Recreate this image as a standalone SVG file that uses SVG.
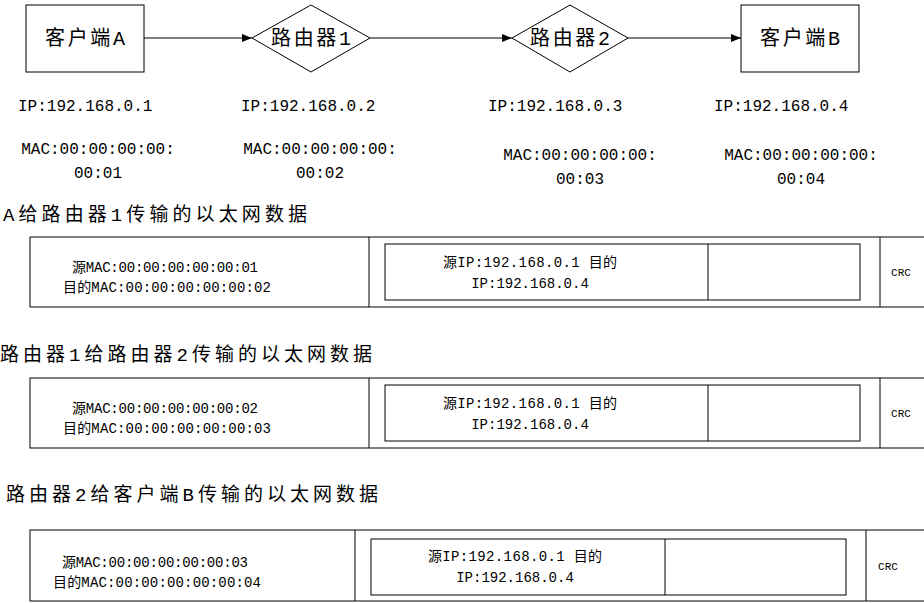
<svg xmlns="http://www.w3.org/2000/svg" width="924" height="603" viewBox="0 0 924 603">
<style>
text{font-family:"Liberation Mono","Noto Sans CJK SC",monospace;fill:#000}
.n{font-size:20px;text-anchor:middle}
.l{font-size:16px}
.c{font-size:16px;text-anchor:middle}
.t{font-size:19px}
.s{font-size:14px;text-anchor:middle}
.x{font-size:11px;text-anchor:middle}
.b{fill:#fff;stroke:#000;stroke-width:1}
</style>
<defs><marker id="a" markerWidth="10" markerHeight="8" refX="10" refY="4" orient="auto" markerUnits="userSpaceOnUse"><path d="M0,0L10,4L0,8z" fill="#000"/></marker></defs>
<rect width="924" height="603" fill="#fff"/>
<g id="edges" stroke="#000" marker-end="url(#a)">
<line x1="144" y1="38" x2="252" y2="38"/>
<line x1="370" y1="38" x2="512" y2="38"/>
<line x1="628" y1="38" x2="741" y2="38"/>
</g>
<g id="clientA"><rect class="b" x="26" y="5" width="118" height="67"/><text class="n" x="85" y="45" textLength="80">客户端A</text></g>
<g id="router1"><polygon class="b" points="252,38 311,5 370,38 311,72"/><text class="n" x="311" y="45" textLength="80">路由器1</text></g>
<g id="router2"><polygon class="b" points="512,38 570,5 628,38 570,72"/><text class="n" x="570" y="45" textLength="80">路由器2</text></g>
<g id="clientB"><rect class="b" x="741" y="5" width="118" height="67"/><text class="n" x="800" y="45" textLength="80">客户端B</text></g>
<g id="labels">
<text class="l" x="18" y="111">IP:192.168.0.1</text>
<text class="l" x="241" y="111">IP:192.168.0.2</text>
<text class="l" x="488" y="111">IP:192.168.0.3</text>
<text class="l" x="714" y="111">IP:192.168.0.4</text>
<text class="c" x="98" y="154">MAC:00:00:00:00:</text><text class="c" x="98" y="178">00:01</text>
<text class="c" x="320" y="154">MAC:00:00:00:00:</text><text class="c" x="320" y="178">00:02</text>
<text class="c" x="580" y="160">MAC:00:00:00:00:</text><text class="c" x="580" y="184">00:03</text>
<text class="c" x="801" y="160">MAC:00:00:00:00:</text><text class="c" x="801" y="184">00:04</text>
</g>
<g id="frame1">
<text class="t" x="3" y="221" textLength="304">A给路由器1传输的以太网数据</text>
<rect class="b" x="30" y="237" width="900" height="70"/>
<line x1="369" y1="237" x2="369" y2="307" stroke="#000"/><line x1="880" y1="237" x2="880" y2="307" stroke="#000"/>
<rect class="b" x="385" y="244" width="475" height="56"/><line x1="708" y1="244" x2="708" y2="300" stroke="#000"/>
<text class="s" x="165" y="272" textLength="186">源MAC:00:00:00:00:00:01</text><text class="s" x="167" y="292" textLength="208">目的MAC:00:00:00:00:00:02</text>
<text class="s" x="530" y="267" textLength="174">源IP:192.168.0.1 目的</text><text class="s" x="530" y="288">IP:192.168.0.4</text>
<text class="x" x="901" y="276">CRC</text>
</g>
<g id="frame2">
<text class="t" x="0" y="361" textLength="372">路由器1给路由器2传输的以太网数据</text>
<rect class="b" x="30" y="378" width="900" height="70"/>
<line x1="369" y1="378" x2="369" y2="448" stroke="#000"/><line x1="880" y1="378" x2="880" y2="448" stroke="#000"/>
<rect class="b" x="385" y="385" width="475" height="56"/><line x1="708" y1="385" x2="708" y2="441" stroke="#000"/>
<text class="s" x="165" y="413" textLength="186">源MAC:00:00:00:00:00:02</text><text class="s" x="167" y="433" textLength="208">目的MAC:00:00:00:00:00:03</text>
<text class="s" x="530" y="408" textLength="174">源IP:192.168.0.1 目的</text><text class="s" x="530" y="429">IP:192.168.0.4</text>
<text class="x" x="901" y="417">CRC</text>
</g>
<g id="frame3">
<text class="t" x="6" y="501" textLength="372">路由器2给客户端B传输的以太网数据</text>
<rect class="b" x="30" y="530" width="900" height="71"/>
<line x1="355" y1="530" x2="355" y2="601" stroke="#000"/><line x1="866" y1="530" x2="866" y2="601" stroke="#000"/>
<rect class="b" x="371" y="539" width="475" height="56"/><line x1="665" y1="539" x2="665" y2="595" stroke="#000"/>
<text class="s" x="155" y="567" textLength="186">源MAC:00:00:00:00:00:03</text><text class="s" x="157" y="587" textLength="208">目的MAC:00:00:00:00:00:04</text>
<text class="s" x="515" y="561" textLength="174">源IP:192.168.0.1 目的</text><text class="s" x="515" y="582">IP:192.168.0.4</text>
<text class="x" x="888" y="570">CRC</text>
</g>
</svg>
